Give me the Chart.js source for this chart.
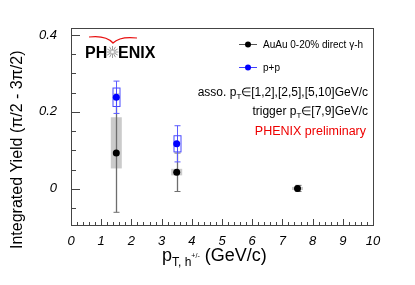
<!DOCTYPE html>
<html><head><meta charset="utf-8">
<script src="https://cdn.jsdelivr.net/npm/chart.js@4.4.1/dist/chart.umd.min.js"></script>
<style>html,body{margin:0;padding:0;background:#fff;}canvas{display:block;}</style>
</head><body>
<canvas id="c" width="415" height="285"></canvas>
<script>
// ---- data ----
const ptBins = [1.5, 3.5, 7.5];
const auauYield = [0.093, 0.043, 0.001];
const auauStat = [0.154, 0.050, 0.008];
const auauSysLow = [0.040, 0.008, 0.004];
const auauSysHigh = [0.093, 0.009, 0.004];
const ppBins = [1.5, 3.5];
const ppYield = [0.238, 0.117];
const ppStat = [0.042, 0.047];
const ppSys = [0.024, 0.021];
const xTickValues = [0, 1, 2, 3, 4, 5, 6, 7, 8, 9, 10];
const yTickValues = [0, 0.2, 0.4];
const yTickLabels = ['0', '0.2', '0.4'];
const legendLabels = ['AuAu 0-20% direct \u03b3-h', 'p+p'];

const FONT = '"Liberation Sans", Arial, Helvetica, sans-serif';

function drawRich(ctx, parts, x, y, align) {
  let w = 0;
  parts.forEach(p => { ctx.font = (p.w || '') + ' ' + p.s + 'px ' + FONT; p._w = ctx.measureText(p.t).width; w += p._w; });
  let cx = align === 'right' ? x - w : (align === 'center' ? x - w / 2 : x);
  ctx.textBaseline = 'alphabetic';
  ctx.textAlign = 'left';
  parts.forEach(p => {
    ctx.font = (p.w || '') + ' ' + p.s + 'px ' + FONT;
    ctx.fillText(p.t, cx, y + (p.dy || 0));
    cx += p._w;
  });
}

const errPlugin = {
  id: 'err',
  beforeDatasetsDraw(chart) {
    const { ctx, scales: { x, y } } = chart;
    ctx.save();
    // AuAu systematic boxes
    ptBins.forEach((v, i) => {
      const px = x.getPixelForValue(v);
      const t = y.getPixelForValue(auauYield[i] + auauSysHigh[i]);
      const b = y.getPixelForValue(auauYield[i] - auauSysLow[i]);
      ctx.fillStyle = '#cbcbcb';
      ctx.fillRect(px - 5.5, t, 11, b - t);
    });
    // AuAu stat bars
    ptBins.forEach((v, i) => {
      const px = Math.round(x.getPixelForValue(v)) + 0.5;
      const t = y.getPixelForValue(auauYield[i] + auauStat[i]);
      const b = y.getPixelForValue(auauYield[i] - auauStat[i]);
      ctx.strokeStyle = '#6e6e6e';
      ctx.lineWidth = 1.3;
      ctx.beginPath(); ctx.moveTo(px, t); ctx.lineTo(px, b); ctx.stroke();
      ctx.lineWidth = 1;
      ctx.beginPath(); ctx.moveTo(px - 3, t); ctx.lineTo(px + 3, t); ctx.moveTo(px - 3, b); ctx.lineTo(px + 3, b); ctx.stroke();
    });
    // pp stat + sys
    ppBins.forEach((v, i) => {
      const px = Math.round(x.getPixelForValue(v)) + 0.5;
      const t = y.getPixelForValue(ppYield[i] + ppStat[i]);
      const b = y.getPixelForValue(ppYield[i] - ppStat[i]);
      ctx.strokeStyle = '#5a5aff';
      ctx.lineWidth = 1;
      ctx.beginPath(); ctx.moveTo(px, t); ctx.lineTo(px, b); ctx.stroke();
      ctx.beginPath(); ctx.moveTo(px - 3, t); ctx.lineTo(px + 3, t); ctx.moveTo(px - 3, b); ctx.lineTo(px + 3, b); ctx.stroke();
      const st = y.getPixelForValue(ppYield[i] + ppSys[i]);
      const sb = y.getPixelForValue(ppYield[i] - ppSys[i]);
      ctx.fillStyle = 'rgba(255,255,255,0.6)';
      ctx.fillRect(px - 3.5, st, 7, sb - st);
      ctx.strokeStyle = '#4a4aff';
      ctx.strokeRect(px - 3.5, st, 7, sb - st);
      ctx.beginPath(); ctx.moveTo(px, st); ctx.lineTo(px, sb); ctx.stroke();
    });
    ctx.restore();
  }
};

const decoPlugin = {
  id: 'deco',
  afterDraw(chart) {
    const { ctx, chartArea: a, scales: { x, y } } = chart;
    ctx.save();
    // frame
    ctx.strokeStyle = '#444';
    ctx.lineWidth = 1;
    ctx.strokeRect(Math.round(a.left) + 0.5, Math.round(a.top) + 0.5, Math.round(a.right - a.left), Math.round(a.bottom - a.top));
    // x ticks
    ctx.beginPath();
    for (let k = 0; k <= 50; k++) {
      const v = k * 0.2;
      const px = Math.round(x.getPixelForValue(v)) + 0.5;
      const len = (k % 5 === 0) ? 6 : 3;
      ctx.moveTo(px, a.bottom); ctx.lineTo(px, a.bottom - len);
    }
    // y ticks
    for (let k = -1; k <= 8; k++) {
      const v = k * 0.05;
      const py = Math.round(y.getPixelForValue(v)) + 0.5;
      const len = (k % 4 === 0) ? 9 : 5;
      ctx.moveTo(a.left, py); ctx.lineTo(a.left + len, py);
    }
    ctx.stroke();

    // y title
    ctx.save();
    ctx.translate(22, 249);
    ctx.rotate(-Math.PI / 2);
    ctx.fillStyle = '#000';
    ctx.font = '16px ' + FONT;
    ctx.textAlign = 'left';
    ctx.textBaseline = 'alphabetic';
    ctx.fillText('Integrated Yield (\u03c0/2 - 3\u03c0/2)', 0, 0);
    ctx.restore();

    // x title
    ctx.fillStyle = '#000';
    drawRich(ctx, [
      { t: 'p', s: 18 },
      { t: 'T, h', s: 12, dy: 5 },
      { t: '+/-', s: 7, dy: -3 },
      { t: ' (GeV/c)', s: 18 }
    ], 162, 261, 'left');

    // legend
    const lx1 = 239, lx2 = 257, lxm = 248;
    const rows = [44, 67];
    const cols = ['#000', '#0000ff'];
    const lineCols = ['#555', '#4040ff'];
    rows.forEach((ry, i) => {
      ctx.strokeStyle = lineCols[i];
      ctx.lineWidth = 1;
      ctx.beginPath(); ctx.moveTo(lx1, ry + 0.5); ctx.lineTo(lx2, ry + 0.5); ctx.stroke();
      ctx.fillStyle = cols[i];
      ctx.beginPath(); ctx.arc(lxm, ry + 0.5, 3, 0, Math.PI * 2); ctx.fill();
      ctx.fillStyle = '#000';
      ctx.font = '10px ' + FONT;
      ctx.textAlign = 'left'; ctx.textBaseline = 'middle';
      ctx.fillText(legendLabels[i], 263, ry + 1);
    });

    // annotations
    ctx.fillStyle = '#000';
    drawRich(ctx, [
      { t: 'asso. p', s: 12 }, { t: 'T', s: 8, dy: 3 }, { t: '\u2208[1,2],[2,5],[5,10]GeV/c', s: 12 }
    ], 368, 96, 'right');
    drawRich(ctx, [
      { t: 'trigger p', s: 12 }, { t: 'T', s: 8, dy: 3 }, { t: '\u2208[7,9]GeV/c', s: 12 }
    ], 368, 115, 'right');
    ctx.fillStyle = '#ee0000';
    drawRich(ctx, [{ t: 'PHENIX preliminary', s: 12.5 }], 366, 135, 'right');

    // PHENIX logo
    ctx.fillStyle = '#000';
    ctx.font = 'bold 16px ' + FONT;
    ctx.textAlign = 'left'; ctx.textBaseline = 'alphabetic';
    ctx.fillText('PH', 85, 58);
    ctx.fillText('ENIX', 118, 58);
    // starburst
    ctx.strokeStyle = '#9a9a9a';
    ctx.lineWidth = 1;
    const sx = 112.5, sy = 52;
    ctx.beginPath();
    for (let k = 0; k < 12; k++) {
      const ang = k * Math.PI / 6;
      ctx.moveTo(sx + 1.5 * Math.cos(ang), sy + 1.5 * Math.sin(ang));
      ctx.lineTo(sx + 6 * Math.cos(ang), sy + 6 * Math.sin(ang));
    }
    ctx.stroke();
    // red arc
    ctx.strokeStyle = '#e81010';
    ctx.lineWidth = 1.2;
    ctx.beginPath();
    ctx.moveTo(89, 37);
    ctx.quadraticCurveTo(106, 35, 113, 43);
    ctx.quadraticCurveTo(120, 36, 137, 38);
    ctx.stroke();
    ctx.restore();
  }
};

new Chart(document.getElementById('c'), {
  type: 'scatter',
  data: {
    datasets: [
      {
        label: legendLabels[0],
        data: ptBins.map((v, i) => ({ x: v, y: auauYield[i] })),
        backgroundColor: '#000', borderColor: '#000',
        pointRadius: 3.5, borderWidth: 0
      },
      {
        label: legendLabels[1],
        data: ppBins.map((v, i) => ({ x: v, y: ppYield[i] })),
        backgroundColor: '#0000ff', borderColor: '#0000ff',
        pointRadius: 3.5, borderWidth: 0
      }
    ]
  },
  options: {
    responsive: false,
    animation: false,
    devicePixelRatio: 1,
    layout: { padding: { left: 0, top: 28, right: 42, bottom: 0 } },
    plugins: { legend: { display: false }, tooltip: { enabled: false } },
    scales: {
      x: {
        type: 'linear', min: 0, max: 10,
        afterBuildTicks: s => { s.ticks = xTickValues.map(v => ({ value: v })); },
        afterFit: s => { s.height = 60; },
        ticks: { color: '#000', font: { family: FONT, size: 13, style: 'italic' }, padding: 9, maxRotation: 0, autoSkip: false },
        grid: { display: false, drawTicks: false },
        border: { display: false }
      },
      y: {
        type: 'linear', min: -0.094, max: 0.418,
        afterBuildTicks: s => { s.ticks = yTickValues.map(v => ({ value: v })); },
        afterFit: s => { s.width = 71; },
        ticks: {
          color: '#000', font: { family: FONT, size: 13, style: 'italic' }, padding: 14,
          callback: (v) => { const i = yTickValues.indexOf(v); return i >= 0 ? yTickLabels[i] : ''; }
        },
        grid: { display: false, drawTicks: false },
        border: { display: false }
      }
    }
  },
  plugins: [errPlugin, decoPlugin]
});
</script>
</body></html>
